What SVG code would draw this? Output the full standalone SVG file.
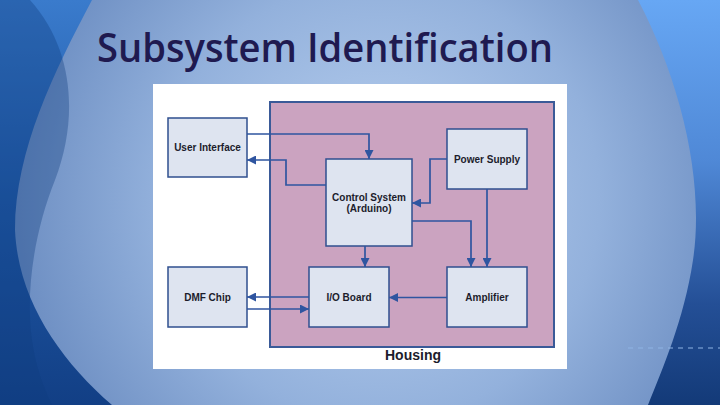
<svg xmlns="http://www.w3.org/2000/svg" width="720" height="405" viewBox="0 0 720 405">
  <defs>
    <radialGradient id="bg" cx="380" cy="200" r="400" gradientUnits="userSpaceOnUse">
      <stop offset="0" stop-color="#bad1f0"/>
      <stop offset="0.55" stop-color="#93b1dc"/>
      <stop offset="1" stop-color="#6587bd"/>
    </radialGradient>
    <linearGradient id="rightg" x1="0" y1="0" x2="0" y2="405" gradientUnits="userSpaceOnUse">
      <stop offset="0" stop-color="#67a7f4"/>
      <stop offset="0.4" stop-color="#4f88d6"/>
      <stop offset="0.75" stop-color="#244f96"/>
      <stop offset="1" stop-color="#133a78"/>
    </linearGradient>
    <linearGradient id="leftg" x1="0" y1="0" x2="0" y2="405" gradientUnits="userSpaceOnUse">
      <stop offset="0" stop-color="#3a7bcc"/>
      <stop offset="0.5" stop-color="#1f58a6"/>
      <stop offset="1" stop-color="#123f85"/>
    </linearGradient>
    <marker id="arr" viewBox="0 0 10 10" refX="10" refY="5" markerUnits="userSpaceOnUse" markerWidth="10" markerHeight="9" orient="auto">
      <path d="M0,0 L10,5 L0,10 z" fill="#2f55a0"/>
    </marker>
    <style>
      .box { fill: #dee4f0; stroke: #2f4f8f; stroke-width: 1.5; }
      .lbl { font-family: "Liberation Sans", Arial, sans-serif; font-weight: bold; font-size: 10px; fill: #1c1c2c; text-anchor: middle; }
      .con { fill: none; stroke: #2f55a0; stroke-width: 1.7; marker-end: url(#arr); }
    </style>
  </defs>

  <!-- background -->
  <rect x="0" y="0" width="720" height="405" fill="url(#bg)"/>
  <path d="M0,0 L92,0 C55,70 15,150 15,230 C18,300 60,360 112,405 L0,405 Z" fill="url(#leftg)"/>
  <path d="M0,0 L30,0 C75,50 78,120 55,180 C35,230 25,290 32,340 C36,370 45,390 52,405 L0,405 Z" fill="#0f3b7e" opacity="0.35"/>
  <path d="M638,0 C680,80 705,180 693,260 C684,320 662,370 648,405 L720,405 L720,0 Z" fill="url(#rightg)"/>
  <path d="M628,348 H720" stroke="#8fb4e4" stroke-width="1" stroke-dasharray="5,5"/>

  <!-- title -->
  <text x="97" y="62" font-family="'Open Sans', 'Noto Sans', sans-serif" font-weight="600" font-size="40" fill="#1f1a50" textLength="456" lengthAdjust="spacingAndGlyphs">Subsystem Identification</text>

  <!-- white panel -->
  <rect x="153" y="84" width="414" height="285" fill="#ffffff"/>

  <!-- housing -->
  <g id="housing">
    <rect x="270" y="102" width="284" height="245" fill="#cba3c0" stroke="#3a5a98" stroke-width="2"/>
    <text x="413" y="360" font-family="'Liberation Sans', Arial, sans-serif" font-weight="bold" font-size="14" fill="#1c1c2c" text-anchor="middle">Housing</text>
  </g>

  <g id="user-interface">
    <rect class="box" x="168" y="118" width="79" height="59"/>
    <text class="lbl" x="207.5" y="151">User Interface</text>
  </g>
  <g id="power-supply">
    <rect class="box" x="447" y="129" width="80" height="60"/>
    <text class="lbl" x="487" y="163">Power Supply</text>
  </g>
  <g id="control-system">
    <rect class="box" x="326" y="159" width="86" height="87"/>
    <text class="lbl" x="369" y="201">Control System</text>
    <text class="lbl" x="369" y="212">(Arduino)</text>
  </g>
  <g id="dmf-chip">
    <rect class="box" x="168" y="267" width="79" height="60"/>
    <text class="lbl" x="207.5" y="301">DMF Chip</text>
  </g>
  <g id="io-board">
    <rect class="box" x="309" y="267" width="80" height="60"/>
    <text class="lbl" x="349" y="301">I/O Board</text>
  </g>
  <g id="amplifier">
    <rect class="box" x="447" y="267" width="80" height="60"/>
    <text class="lbl" x="487" y="301">Amplifier</text>
  </g>

  <g id="connectors">
    <path class="con" d="M247,134 H369 V159"/>
    <path class="con" d="M326,185 H286 V160 H247"/>
    <path class="con" d="M447,159 H430 V203 H412"/>
    <path class="con" d="M412,221 H471 V267"/>
    <path class="con" d="M487,189 V267"/>
    <path class="con" d="M365,246 V267"/>
    <path class="con" d="M447,297.5 H389"/>
    <path class="con" d="M309,297 H247"/>
    <path class="con" d="M247,309 H309"/>
  </g>
</svg>
